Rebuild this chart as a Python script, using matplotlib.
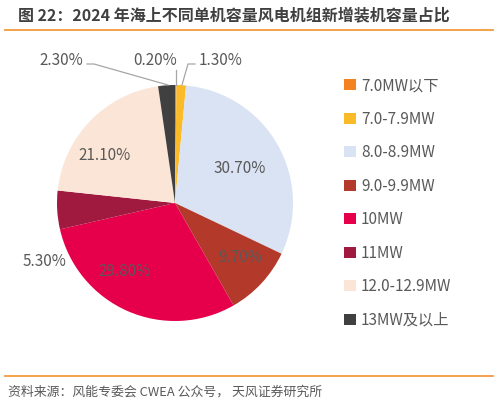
import matplotlib
matplotlib.use("Agg")
import matplotlib.pyplot as plt
import numpy as np
from matplotlib.patches import Patch
from matplotlib.lines import Line2D

plt.rcParams['font.family'] = ['Noto Sans CJK SC', 'DejaVu Sans']

categories = ["7.0MW以下", "7.0-7.9MW", "8.0-8.9MW", "9.0-9.9MW", "10MW", "11MW", "12.0-12.9MW", "13MW及以上"]
values = [0.2, 1.3, 30.7, 9.7, 29.8, 5.3, 21.1, 2.3]
labels = ["0.20%", "1.30%", "30.70%", "9.70%", "29.80%", "5.30%", "21.10%", "2.30%"]
colors = ["#F58220", "#FBBA27", "#DAE3F3", "#B33A2A", "#E6004C", "#A0193E", "#FBE5D6", "#404040"]

W, H = 499, 404
fig = plt.figure(figsize=(W/100, H/100), dpi=100)

cx, cy, R = 175, 203, 118
ax = fig.add_axes([(cx-R)/W, (H-cy-R)/H, 2*R/W, 2*R/H])
wedges, _ = ax.pie(values, colors=colors, startangle=90, counterclock=False, radius=1,
                   wedgeprops=dict(linewidth=0))
ax.set_xlim(-1, 1); ax.set_ylim(-1, 1)
ax.set_aspect('equal')
ax.axis('off')

tc = "#595959"
fs = 11
def px(x, y):
    return ((x-cx)/R, (cy-y)/R)

inside = {2: (240, 168), 3: (240, 258), 4: (125, 272), 6: (105, 155)}
for i, (x, y) in inside.items():
    ax.text(*px(x, y), labels[i], ha='center', va='center', fontsize=fs, color=tc)

ax.text(*px(45, 262), labels[5], ha='center', va='center', fontsize=fs, color=tc, clip_on=False)
ax.text(*px(155, 60), labels[0], ha='center', va='center', fontsize=fs, color=tc, clip_on=False)
ax.text(*px(221, 60), labels[1], ha='center', va='center', fontsize=fs, color=tc, clip_on=False)
ax.text(*px(61, 60), labels[7], ha='center', va='center', fontsize=fs, color=tc, clip_on=False)

lc = "#A6A6A6"
for xs, ys in [([87, 94, 168], [64, 64, 85]),
               ([176, 176], [70, 85]),
               ([195, 188, 182], [64, 64, 85])]:
    pts = [px(x, y) for x, y in zip(xs, ys)]
    ax.add_line(Line2D([p[0] for p in pts], [p[1] for p in pts], color=lc, lw=0.9, clip_on=False))

handles = [Patch(facecolor=c, edgecolor='none') for c in colors]
leg = fig.legend(handles, categories, loc='upper left', bbox_to_anchor=(338/W, 1-71/H),
                 frameon=False, fontsize=fs, labelcolor=tc, handlelength=0.75, handleheight=0.75,
                 handletextpad=0.35, labelspacing=1.08, borderaxespad=0)

fig.text(18/W, 1-15/H, "图 22：2024 年海上不同单机容量风电机组新增装机容量占比", fontsize=11.5,
         fontweight='bold', color="#404040", ha='left', va='center')
fig.add_artist(Line2D([5/W, 493/W], [1-30/H, 1-30/H], color="#F39A3C", lw=1.3))
fig.add_artist(Line2D([5/W, 493/W], [1-376/H, 1-376/H], color="#F39A3C", lw=1.3))
fig.text(8/W, 1-392/H, "资料来源：风能专委会 CWEA 公众号， 天风证券研究所", fontsize=9.3,
         color="#595959", ha='left', va='center')

fig.savefig("out.png", dpi=100)
